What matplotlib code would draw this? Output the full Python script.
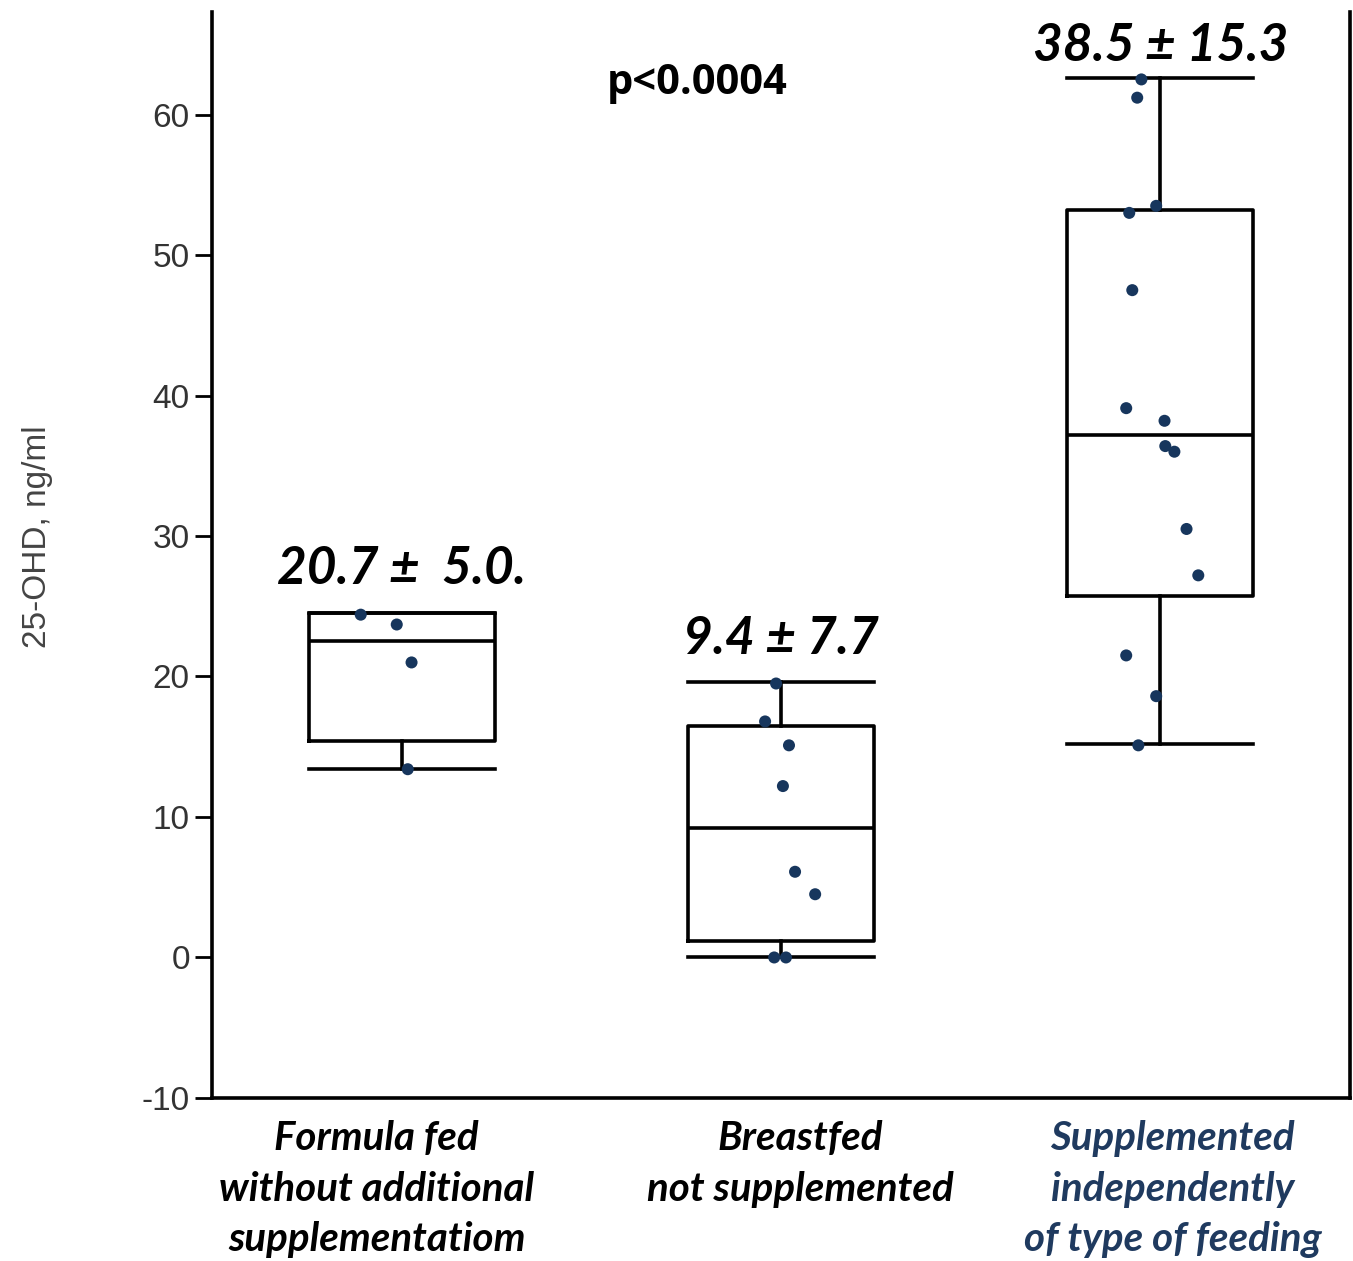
import matplotlib
matplotlib.use("Agg")
import matplotlib.pyplot as plt

# group labels and summary texts
groups = ["Formula fed\nwithout additional\nsupplementatiom",
          "Breastfed\nnot supplemented",
          "Supplemented\nindependently\nof type of feeding"]
label_colors = ["black", "black", "#1f3a5f"]
label_shift = [-0.066, 0.05, 0.032]
summaries = ["20.7 \u00b1  5.0.", "9.4 \u00b1 7.7", "38.5 \u00b1 15.3"]

# box statistics
whislo = [13.4, 0.0, 15.2]
q1 = [15.4, 1.2, 25.7]
med = [22.5, 9.2, 37.2]
q3 = [24.5, 16.5, 53.2]
whishi = [24.5, 19.6, 62.6]

# individual points per group and their horizontal jitter
vals_1 = [24.4, 23.7, 21.0, 13.4]
jit_1 = [-0.108, -0.013, 0.026, 0.016]
vals_2 = [19.5, 16.8, 15.1, 12.2, 6.1, 4.5, 0.0, 0.0]
jit_2 = [-0.013, -0.042, 0.021, 0.005, 0.037, 0.090, -0.018, 0.013]
vals_3 = [62.5, 61.2, 53.5, 53.0, 47.5, 39.1, 38.2, 36.4, 36.0, 30.5, 27.2, 21.5, 18.6, 15.1]
jit_3 = [-0.050, -0.061, -0.011, -0.082, -0.074, -0.090, 0.011, 0.013, 0.037, 0.069, 0.100, -0.090, -0.011, -0.058]

points = [(vals_1, jit_1), (vals_2, jit_2), (vals_3, jit_3)]

fig = plt.figure(figsize=(13.53, 12.61), dpi=100)
ax = fig.add_axes([0.1567, 0.1293, 0.8411, 0.8612])

stats = []
for i in range(3):
    stats.append({"whislo": whislo[i], "q1": q1[i], "med": med[i],
                  "q3": q3[i], "whishi": whishi[i], "fliers": []})

line = dict(color="black", linewidth=2.6)
ax.bxp(stats, positions=[1, 2, 3], widths=0.49, showfliers=False,
       boxprops=line, whiskerprops=line, capprops=line, medianprops=line,
       capwidths=0.49)

for i, (v, j) in enumerate(points):
    ax.scatter([i + 1 + d for d in j], v, s=75, color="#17365d", zorder=5,
               edgecolors="none")

# summary texts above each group
stat_y = [q3[0] + 2.1, whishi[1] + 2.0, whishi[2] + 1.2]
for i, t in enumerate(summaries):
    ax.text(i + 1, stat_y[i], t, ha="center", va="baseline", fontsize=37,
            fontweight="bold", fontstyle="italic", family="Lato")

ax.text(1.78, 62.2, "p<0.0004", ha="center", va="center", fontsize=30,
        fontweight="bold", family="Open Sans")

ax.set_xlim(0.5, 3.5)
ax.set_ylim(-10, 67.3)
yticks = [-10, 0, 10, 20, 30, 40, 50, 60]
ax.set_yticks(yticks)
ax.set_yticklabels([str(t) for t in yticks])
ax.set_xticks([])
ax.tick_params(axis="y", direction="out", length=12, width=2,
               labelsize=24, labelcolor="#333333", pad=4)
for lab in ax.get_yticklabels():
    lab.set_family("Liberation Sans")

ax.spines["top"].set_visible(False)
for s in ["left", "bottom", "right"]:
    ax.spines[s].set_linewidth(2.6)

ax.set_ylabel("25-OHD, ng/ml", fontsize=24, color="#444444",
              family="Liberation Sans")
ax.yaxis.set_label_coords(-0.14, 0.517)

# category labels below the axis
for i, g in enumerate(groups):
    ax.text(i + 1 + label_shift[i], -11.6, g, ha="center", va="top",
            fontsize=29, fontweight="bold", fontstyle="italic", family="Lato",
            color=label_colors[i], linespacing=1.45)

fig.savefig("out.png", dpi=100)
